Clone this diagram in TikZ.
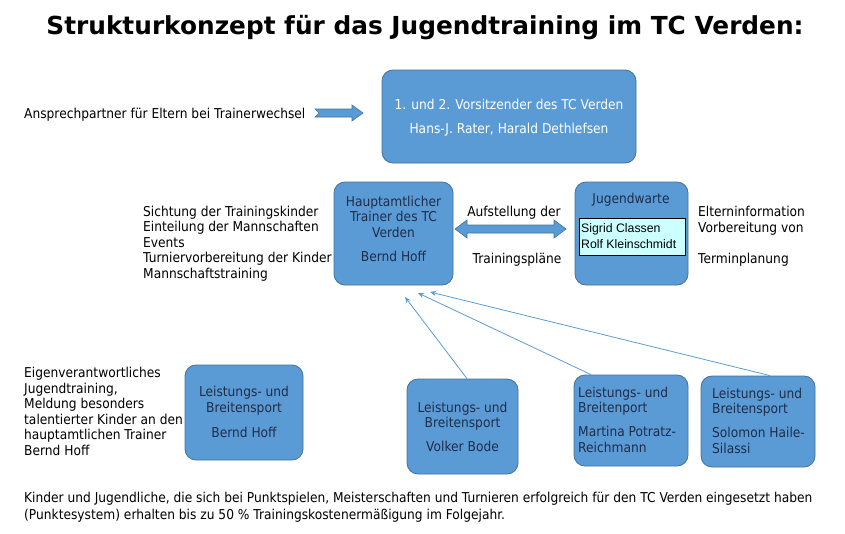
\documentclass[tikz,border=0pt]{standalone}
\usepackage{fontspec}
\setmainfont{DejaVu Sans}[FakeStretch=0.9]
\newfontfamily\titlefont{DejaVu Sans}
\newfontfamily\arialfont{Liberation Sans}
\usetikzlibrary{arrows.meta}
\definecolor{boxblue}{HTML}{5B9BD5}
\definecolor{boxline}{HTML}{41719C}
\definecolor{boxtext}{HTML}{1F2D4A}
\definecolor{paleblue}{HTML}{CCFFFF}
\tikzset{
  blockbox/.style={draw=boxline, fill=boxblue, rounded corners=11pt, line width=0.8pt},
  txt/.style={inner sep=0pt, font=\fontsize{13.6}{15.5}\selectfont},
  intxt/.style={txt, text=boxtext, align=center},
  feeder/.style={boxblue, line width=0.8pt, -{Stealth[length=6pt,width=5pt]}}
}
\begin{document}
\begin{tikzpicture}[x=1pt, y=-1pt]
\useasboundingbox (0,0) rectangle (845,533);
\node[font=\titlefont\bfseries\fontsize{24.8}{28}\selectfont] (title) at (425,28) {Strukturkonzept für das Jugendtraining im TC Verden:};

% boxes
\node[blockbox, minimum width=254pt, minimum height=93pt] (vorsitz) at (509,116.5) {};
\node[blockbox, minimum width=119pt, minimum height=103pt] (trainer) at (393.5,233.5) {};
\node[blockbox, minimum width=113pt, minimum height=103pt] (jugend) at (631.5,233.5) {};
\node[draw, fill=paleblue, line width=0.8pt, minimum width=106pt, minimum height=37pt] (warte) at (632,236.5) {};
\node[blockbox, minimum width=118pt, minimum height=95pt] (hoff) at (244,412.5) {};
\node[blockbox, minimum width=111pt, minimum height=95pt] (bode) at (462.5,426.5) {};
\node[blockbox, minimum width=114pt, minimum height=91pt] (potratz) at (631,420.5) {};
\node[blockbox, minimum width=114pt, minimum height=91pt] (haile) at (758,421.5) {};

% texts in the boxes
\node[intxt, text=white] (vorsitztext) at (509,117.5) {1. und 2. Vorsitzender des TC Verden\\[8.5pt]Hans-J. Rater, Harald Dethlefsen};
\node[intxt] (trainertext) at (393.5,228.5) {Hauptamtlicher\\Trainer des TC\\Verden\\[8.5pt]Bernd Hoff};
\node[intxt] (jugendtext) at (631,200) {Jugendwarte};
\node[inner sep=0pt, align=left, anchor=west, font=\arialfont\fontsize{12.3}{16}\selectfont] (wartetext) at (581,236) {Sigrid Classen\\Rolf Kleinschmidt};
\node[intxt] (hofftext) at (244,412) {Leistungs- und\\Breitensport\\[9.5pt]Bernd Hoff};
\node[intxt] (bodetext) at (462.5,426.5) {Leistungs- und\\Breitensport\\[8pt]Volker Bode};
\node[intxt, align=left, anchor=west] (potratztext) at (578,419.5) {Leistungs- und\\Breitenport\\[8.5pt]Martina Potratz-\\Reichmann};
\node[intxt, align=left, anchor=west] (hailetext) at (712,420.5) {Leistungs- und\\Breitensport\\[8.5pt]Solomon Haile-\\Silassi};

% texts outside
\node[txt, anchor=west] (ansprech) at (24,114.5) {Ansprechpartner für Eltern bei Trainerwechsel};
\node[txt, anchor=west, align=left] (aufgaben) at (143,243.5) {Sichtung der Trainingskinder\\Einteilung der Mannschaften\\Events\\Turniervorbereitung der Kinder\\Mannschaftstraining};
\node[txt] (aufstellung) at (514,212.5) {Aufstellung der};
\node[txt] (plaene) at (517,259.5) {Trainingspläne};
\node[txt, anchor=west, align=left] (eltern) at (698,236) {Elterninformation\\Vorbereitung von\\[15.5pt]Terminplanung};
\node[txt, anchor=west, align=left] (eigen) at (24,411.5) {Eigenverantwortliches\\Jugendtraining,\\Meldung besonders\\talentierter Kinder an den\\hauptamtlichen Trainer\\Bernd Hoff};
\node[txt, anchor=west, align=left, font=\fontsize{13.6}{17}\selectfont] (punkte) at (24,507) {Kinder und Jugendliche, die sich bei Punktspielen, Meisterschaften und Turnieren erfolgreich für den TC Verden eingesetzt haben\\(Punktesystem) erhalten bis zu 50 \% Trainingskostenermäßigung im Folgejahr.};

% block arrows
\draw[fill=boxblue, draw=boxline, line width=0.6pt] (315,109) -- (352,109) -- (352,105) -- (363,113) -- (352,121) -- (352,117) -- (315,117) -- (319,113) -- cycle;
\draw[fill=boxblue, draw=boxline, line width=0.6pt] (455,229) -- (467,220) -- (467,225) -- (554,225) -- (554,220) -- (566,229) -- (554,238) -- (554,233) -- (467,233) -- (467,238) -- cycle;

% thin arrows to the trainer
\coordinate (p1) at (405,297);
\coordinate (p2) at (418,293);
\coordinate (p3) at (430,292);
\foreach \s/\d/\e in {bode/4.5/p1, potratz/-40/p2, haile/12/p3}
    \draw[feeder] ([xshift=\d pt]\s.north) -- (\e);
\end{tikzpicture}
\end{document}
